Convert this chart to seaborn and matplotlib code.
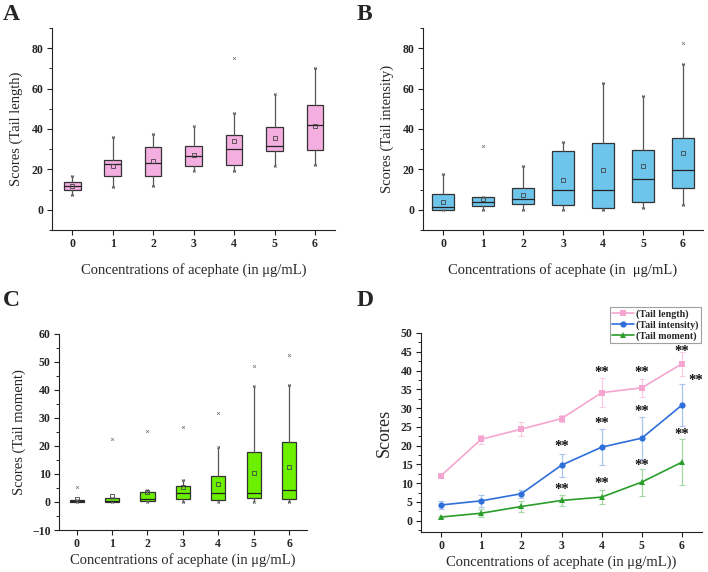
import numpy as np
import pandas as pd
import seaborn as sns
import matplotlib.pyplot as plt
from matplotlib.ticker import MultipleLocator

# Data
conc = [0, 1, 2, 3, 4, 5, 6]

# Tail length box stats
len_q1 = [9.6, 16.5, 16.8, 21.5, 22.4, 29.0, 29.5]
len_med = [12.0, 22.8, 23.4, 26.7, 30.2, 31.7, 41.9]
len_q3 = [13.5, 24.8, 31.0, 31.5, 37.0, 40.9, 52.1]
len_lo = [7.3, 11.1, 12.0, 19.1, 19.0, 21.9, 22.4]
len_hi = [16.9, 35.8, 37.6, 41.6, 47.9, 57.3, 70.3]
len_mean = [11.9, 21.5, 24.1, 27.1, 34.0, 35.5, 41.7]
len_out = [[], [], [], [], [75.1], [], []]

# Tail intensity box stats
int_q1 = [0.0, 1.8, 3.0, 2.3, 1.0, 4.0, 10.6]
int_med = [1.3, 4.0, 5.3, 9.9, 9.9, 15.3, 19.6]
int_q3 = [7.6, 6.3, 10.6, 28.9, 33.0, 29.4, 35.3]
int_lo = [0.0, 0.0, 0.0, 0.0, 0.0, 0.7, 2.3]
int_hi = [17.5, 6.3, 21.6, 33.7, 62.7, 56.3, 72.3]
int_mean = [4.0, 5.4, 7.1, 14.7, 19.5, 21.8, 28.1]
int_out = [[], [31.8], [], [], [], [], [82.5]]

# Tail moment box stats
mom_q1 = [0.1, 0.0, 0.5, 1.1, 0.7, 1.5, 1.1]
mom_med = [0.5, 0.5, 1.0, 3.2, 3.2, 3.2, 4.3]
mom_q3 = [0.8, 1.4, 3.4, 5.7, 9.3, 18.0, 21.4]
mom_lo = [0.0, 0.0, 0.0, 0.0, 0.0, 0.0, 0.0]
mom_hi = [0.8, 1.4, 4.2, 7.8, 19.6, 41.4, 41.6]
mom_mean = [0.9, 2.1, 3.7, 5.3, 6.4, 10.3, 12.5]
mom_out = [[5.3], [22.4], [25.3], [26.8], [31.9], [48.4], [52.3]]

# Panel D means and errors
d_len = [12.0, 21.7, 24.4, 27.2, 34.1, 35.4, 41.8]
d_len_err = [0.6, 1.2, 1.9, 1.0, 3.8, 2.4, 3.2]
d_int = [4.2, 5.3, 7.2, 14.8, 19.6, 22.0, 30.8]
d_int_err = [1.1, 1.6, 1.1, 3.1, 4.8, 5.5, 5.7]
d_mom = [1.0, 2.0, 3.8, 5.4, 6.3, 10.3, 15.6]
d_mom_err = [0.3, 1.1, 1.4, 1.5, 1.9, 3.6, 6.2]

# significance marks
star_x = [4, 5, 6, 3, 4, 5, 6.35, 3, 4, 5, 6]
star_y = [39.6, 39.6, 45.0, 19.8, 26.0, 29.0, 37.4, 8.4, 9.8, 14.8, 23.0]

sns.set_style("ticks")
plt.rcParams["font.family"] = ["Liberation Serif", "DejaVu Serif"]

fig = plt.figure(figsize=(7.08, 5.72), dpi=100)

xlab = "Concentrations of acephate (in \u03bcg/mL)"


def style_axis(ax):
    sns.despine(ax=ax)
    ax.spines["left"].set_color("#222222")
    ax.spines["bottom"].set_color("#222222")
    ax.tick_params(axis="both", which="major", direction="out", length=3.5,
                   width=0.8, labelsize=8.5, color="#222222", pad=2.5)
    ax.tick_params(axis="y", which="minor", direction="out", length=2, width=0.7)
    for lab in ax.get_xticklabels() + ax.get_yticklabels():
        lab.set_fontweight("bold")


def box_panel(ax, q1, med, q3, lo, hi, mean, out, color, width):
    stats = []
    for i in range(len(conc)):
        stats.append({
            "med": med[i], "q1": q1[i], "q3": q3[i],
            "whislo": lo[i], "whishi": hi[i], "mean": mean[i],
            "fliers": out[i] + [lo[i], hi[i]],
        })
    ax.bxp(stats, positions=conc, widths=width, patch_artist=True,
           showmeans=True, capwidths=0.04,
           boxprops=dict(facecolor=color, edgecolor="#333333", linewidth=0.9),
           medianprops=dict(color="#222222", linewidth=0.9),
           whiskerprops=dict(color="#555555", linewidth=0.9),
           capprops=dict(color="#555555", linewidth=0.9),
           meanprops=dict(marker="s", markerfacecolor="none",
                          markeredgecolor="#444444", markersize=2.5,
                          markeredgewidth=0.6),
           flierprops=dict(marker="x", markeredgecolor="#777777",
                           markersize=2.0, markeredgewidth=0.5))
    ax.set_xlim(-0.5, 6.5)
    ax.set_xticks(conc)
    ax.set_xticklabels([str(c) for c in conc])


# A: tail length
axA = fig.add_axes([0.0735, 0.598, 0.40, 0.353])
box_panel(axA, len_q1, len_med, len_q3, len_lo, len_hi, len_mean, len_out,
          "#F5AEE0", 0.41)
axA.set_ylim(-10, 90)
axA.set_yticks([0, 20, 40, 60, 80])
axA.yaxis.set_minor_locator(MultipleLocator(10))
axA.set_ylabel("Scores (Tail length)", fontsize=10.5, labelpad=6)
axA.set_xlabel(xlab, fontsize=10.5, labelpad=9)
style_axis(axA)

# B: tail intensity
axB = fig.add_axes([0.5975, 0.598, 0.3955, 0.353])
box_panel(axB, int_q1, int_med, int_q3, int_lo, int_hi, int_mean, int_out,
          "#6EC5EC", 0.56)
axB.set_ylim(-10, 90)
axB.set_yticks([0, 20, 40, 60, 80])
axB.yaxis.set_minor_locator(MultipleLocator(10))
axB.set_ylabel("Scores (Tail intensity)", fontsize=10.5, labelpad=6)
axB.set_xlabel("Concentrations of acephate (in  \u03bcg/mL)", fontsize=10.5, labelpad=9)
style_axis(axB)

# C: tail moment
axC = fig.add_axes([0.0833, 0.0734, 0.350, 0.343])
box_panel(axC, mom_q1, mom_med, mom_q3, mom_lo, mom_hi, mom_mean, mom_out,
          "#6CF000", 0.40)
axC.set_ylim(-10, 60)
axC.set_yticks(range(-10, 61, 10))
axC.yaxis.set_minor_locator(MultipleLocator(5))
axC.set_ylabel("Scores (Tail moment)", fontsize=10.5, labelpad=4)
axC.set_xlabel(xlab, fontsize=10.5, labelpad=2)
style_axis(axC)

# D: mean lines
axD = fig.add_axes([0.5946, 0.0699, 0.397, 0.348])
line_df = pd.DataFrame({
    "conc": conc * 3,
    "score": d_len + d_int + d_mom,
    "series": ["(Tail length)"] * 7 + ["(Tail intensity)"] * 7 + ["(Tail moment)"] * 7,
})
palette = {"(Tail length)": "#F4A6D0", "(Tail intensity)": "#2F6FDA",
           "(Tail moment)": "#2A9D2A"}
err_colors = {"(Tail length)": "#F8CCE4", "(Tail intensity)": "#A9C4EE",
              "(Tail moment)": "#A6D8A6"}
errs = {"(Tail length)": d_len_err, "(Tail intensity)": d_int_err,
        "(Tail moment)": d_mom_err}
for name, grp in line_df.groupby("series", sort=False):
    axD.errorbar(grp["conc"], grp["score"], yerr=errs[name], fmt="none",
                 ecolor=err_colors[name], elinewidth=0.9, capsize=2.5,
                 capthick=0.8, zorder=1)
sns.lineplot(data=line_df, x="conc", y="score", hue="series", style="series",
             palette=palette, markers={"(Tail length)": "s",
                                       "(Tail intensity)": "o",
                                       "(Tail moment)": "^"},
             dashes=False, markersize=4.5, markeredgewidth=0, linewidth=1.2,
             ax=axD, zorder=3)
for sx, sy in zip(star_x, star_y):
    axD.text(sx, sy, "**", ha="center", va="center", fontsize=10.5,
             fontweight="bold", color="#111111")
axD.set_xlim(-0.5, 6.5)
axD.set_xticks(conc)
axD.set_ylim(-3, 50)
axD.set_yticks(range(0, 51, 5))
axD.yaxis.set_minor_locator(MultipleLocator(2.5))
axD.set_ylabel("Scores", fontsize=13, labelpad=6)
axD.set_xlabel("Concentrations of acephate (in \u03bcg/mL))", fontsize=10.5, labelpad=2)
style_axis(axD)
leg = axD.legend(loc="upper right", frameon=True, fancybox=False,
                 fontsize=7.2, handlelength=2.2, borderpad=0.2,
                 labelspacing=0.15, handletextpad=0.3, title=None)
leg.get_frame().set_edgecolor("#888888")
leg.get_frame().set_linewidth(0.8)
for t in leg.get_texts():
    t.set_fontweight("bold")
leg.set_bbox_to_anchor((706 / 708, 1 - 302 / 572), transform=fig.transFigure)

# panel letters
for lab, (px, py) in zip("ABCD", [(3, 20), (357, 20), (3, 306), (357, 306)]):
    fig.text(px / 708, 1 - py / 572, lab, fontsize=17, fontweight="bold",
             ha="left", va="baseline")

plt.savefig("out.png", dpi=100)
